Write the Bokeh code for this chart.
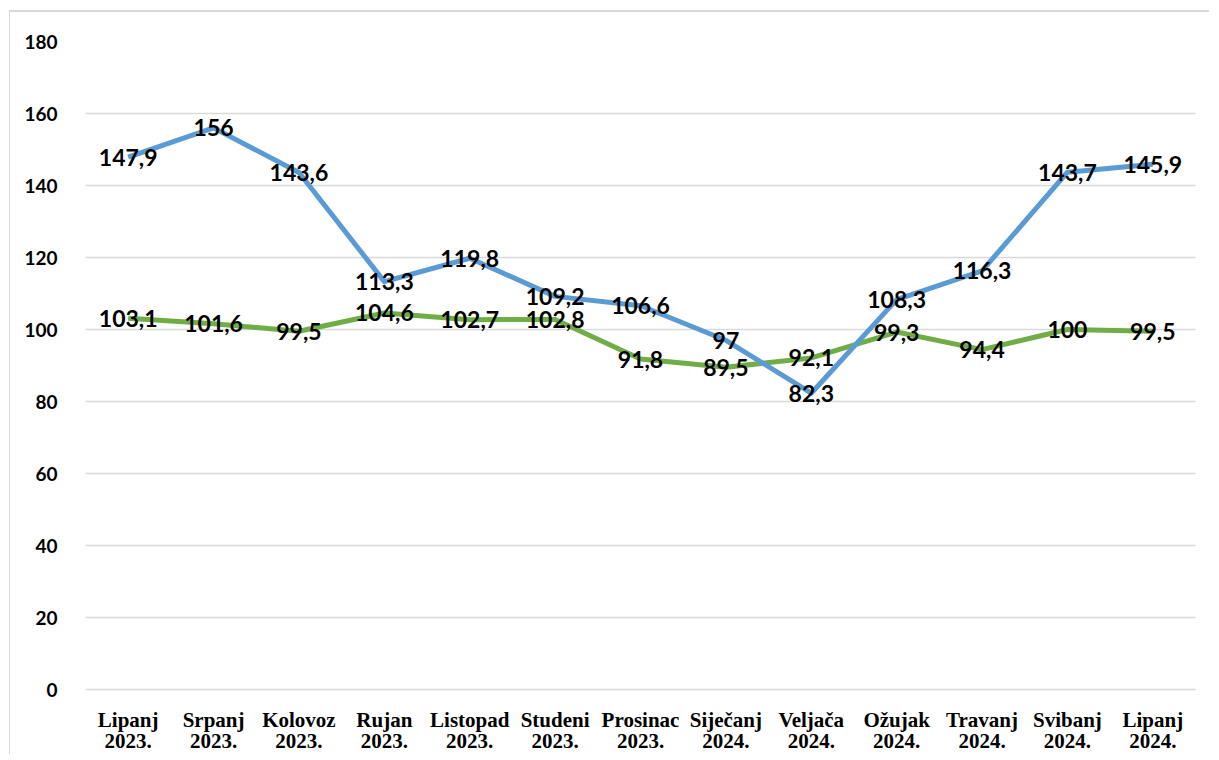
from bokeh.plotting import figure
from bokeh.models import FactorRange, Range1d, FixedTicker, ColumnDataSource
from bokeh.embed import file_html
from bokeh.resources import INLINE
from bokeh.core.properties import value

months = ["Lipanj\n2023.", "Srpanj\n2023.", "Kolovoz\n2023.", "Rujan\n2023.",
          "Listopad\n2023.", "Studeni\n2023.", "Prosinac\n2023.", "Siječanj\n2024.",
          "Veljača\n2024.", "Ožujak\n2024.", "Travanj\n2024.", "Svibanj\n2024.",
          "Lipanj\n2024."]
blue_values = [147.9, 156, 143.6, 113.3, 119.8, 109.2, 106.6, 97, 82.3, 108.3, 116.3, 143.7, 145.9]
green_values = [103.1, 101.6, 99.5, 104.6, 102.7, 102.8, 91.8, 89.5, 92.1, 99.3, 94.4, 100, 99.5]
y_ticks = [0, 20, 40, 60, 80, 100, 120, 140, 160, 180]


def fmt(v):
    return f"{v:g}".replace(".", ",")


blue_src = ColumnDataSource(dict(x=months, y=blue_values, t=[fmt(v) for v in blue_values]))
green_src = ColumnDataSource(dict(x=months, y=green_values, t=[fmt(v) for v in green_values]))

p = figure(width=1200, height=744, x_range=FactorRange(*months), y_range=Range1d(0, 180),
           output_backend="svg", toolbar_location=None,
           min_border_left=75, min_border_right=15, min_border_top=29, min_border_bottom=66)
p.styles = {"margin-left": "9px", "margin-top": "10px",
            "border-left": "1px solid #d9d9d9", "border-top": "2px solid #d9d9d9"}
p.outline_line_color = None
p.background_fill_color = "white"
p.border_fill_color = "white"

p.xgrid.grid_line_color = None
p.ygrid.grid_line_color = "#d9d9d9"
p.ygrid.grid_line_width = 1.5

p.yaxis.ticker = FixedTicker(ticks=y_ticks)
p.yaxis.axis_line_color = None
p.yaxis.major_tick_line_color = None
p.yaxis.minor_tick_line_color = None
p.yaxis.major_label_standoff = 22
p.yaxis.major_label_text_font = "Lato"
p.yaxis.major_label_text_font_style = "bold"
p.yaxis.major_label_text_font_size = "19px"
p.yaxis.major_label_text_color = "black"

p.xaxis.axis_line_color = "#d9d9d9"
p.xaxis.axis_line_width = 1.5
p.xaxis.major_tick_line_color = None
p.xaxis.minor_tick_line_color = None
p.xaxis.major_label_standoff = 12
p.xaxis.major_label_text_font = "Liberation Serif"
p.xaxis.major_label_text_font_style = "bold"
p.xaxis.major_label_text_font_size = "21px"
p.xaxis.major_label_text_color = "black"
p.xaxis.major_label_text_line_height = 0.9

p.line(x="x", y="y", source=green_src, line_color="#70AD47", line_width=5, line_join="round")
p.line(x="x", y="y", source=blue_src, line_color="#5B9BD5", line_width=5, line_join="round")

for src in (green_src, blue_src):
    p.text(x="x", y="y", text="t", source=src, text_align="center", text_baseline="middle",
           text_font=value("Lato"), text_font_style="bold", text_font_size="23px",
           text_color="black")

open("out.html", "w").write(file_html(p, INLINE))
